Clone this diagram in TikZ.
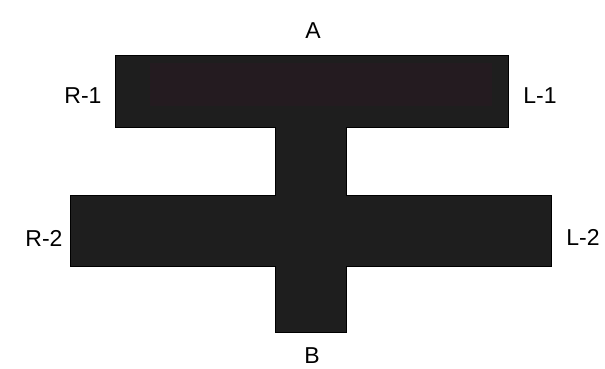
\documentclass[tikz,border=0pt]{standalone}
\usepackage{fontspec}
\setmainfont{Liberation Sans}
\definecolor{barfill}{RGB}{30,30,30}
\definecolor{barinner}{RGB}{36,27,32}
\begin{document}
\begin{tikzpicture}[x=1pt,y=-1pt,
  lbl/.style={font=\fontsize{23}{26}\selectfont, inner sep=0pt, text=black},
  bar/.style={fill=barfill, draw=black, line width=1pt}]
\useasboundingbox (0,0) rectangle (605,369);
% T-shaped member with two arms
\path[bar] (115,56) -- (508,56) -- (508,127) -- (346,127) -- (346,195)
  -- (551,195) -- (551,266) -- (346,266) -- (346,332) -- (275,332)
  -- (275,266) -- (70,266) -- (70,195) -- (275,195) -- (275,127)
  -- (115,127) -- cycle;
\fill[barinner] (150,63) rectangle (492,106);
\node[lbl] (A) at (313,31) {A};
\node[lbl] (B) at (312,356) {B};
\node[lbl] (R1) at (83,96) {R-1};
\node[lbl] (L1) at (540,96) {L-1};
\node[lbl] (R2) at (44,238) {R-2};
\node[lbl] (L2) at (583,237) {L-2};
\end{tikzpicture}
\end{document}
